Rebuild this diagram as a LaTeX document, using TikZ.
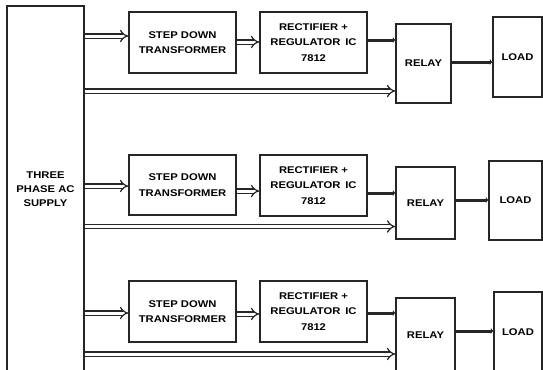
\documentclass[tikz,border=0pt]{standalone}
\usepackage{fontspec}
\setmainfont{Liberation Sans}
\newfontfamily\blkfont[FakeStretch=1.15]{Liberation Sans Bold}
\usetikzlibrary{arrows.meta}
\tikzset{
  blk/.style={draw=black!85, line width=1.4bp, inner sep=0pt, align=center,
    font=\fontsize{9.8}{15.5}\blkfont},
  dbl/.style={draw=black!85, line width=1.2bp, double=white, double distance=3bp,
    -{Implies[length=3.5bp]}},
  thk/.style={draw=black!85, line width=3bp, -{Latex[length=2.5bp,width=6.5bp]}}
}
\begin{document}
\begin{tikzpicture}[x=1bp,y=-1bp]
\useasboundingbox (0,0) rectangle (543,369);
\clip (0,0) rectangle (543,369);
\fill[white] (0,0) rectangle (543,369);
\node[blk, minimum width=77bp, minimum height=366bp, font=\fontsize{9.8}{14}\blkfont] (supply) at (45.5,189) {THREE\\PHASE AC\\SUPPLY};
% row 1
\node[blk, minimum width=107bp, minimum height=61bp] (step1) at (182.5,42.5) {STEP DOWN\\TRANSFORMER};
\node[blk, minimum width=107bp, minimum height=61bp] (rect1) at (313.5,42.5) {RECTIFIER +\\REGULATOR\enspace IC\\7812};
\node[blk, minimum width=55bp, minimum height=79bp] (relay1) at (423.5,63.5) {RELAY};
\node[blk, minimum width=49bp, minimum height=80bp] (load1) at (517.5,57) {LOAD};
% row 2
\node[blk, minimum width=107bp, minimum height=60bp] (step2) at (182.5,185) {STEP DOWN\\TRANSFORMER};
\node[blk, minimum width=107bp, minimum height=61bp] (rect2) at (313.5,185.5) {RECTIFIER +\\REGULATOR\enspace IC\\7812};
\node[blk, minimum width=59bp, minimum height=72bp] (relay2) at (425.5,203) {RELAY};
\node[blk, minimum width=53bp, minimum height=79bp] (load2) at (515.5,200.5) {LOAD};
% row 3
\node[blk, minimum width=107bp, minimum height=61bp] (step3) at (182.5,311.5) {STEP DOWN\\TRANSFORMER};
\node[blk, minimum width=107bp, minimum height=61bp] (rect3) at (313.5,311.5) {RECTIFIER +\\REGULATOR\enspace IC\\7812};
\node[blk, minimum width=59bp, minimum height=74bp] (relay3) at (425.5,335) {RELAY};
\node[blk, minimum width=48bp, minimum height=80bp] (load3) at (518,332) {LOAD};
% connectors row 1
\draw[dbl] (supply.east |- 0,36) -- (step1.west |- 0,36);
\draw[dbl] (step1.east |- 0,42) -- (rect1.west |- 0,42);
\draw[thk] (rect1.east |- 0,40) -- (relay1.west |- 0,40);
\draw[thk] (relay1.east |- 0,62) -- (load1.west |- 0,62);
\draw[dbl] (supply.east |- 0,91) -- (relay1.west |- 0,91);
% connectors row 2
\draw[dbl] (supply.east |- 0,186) -- (step2.west |- 0,186);
\draw[dbl] (step2.east |- 0,191) -- (rect2.west |- 0,191);
\draw[thk] (rect2.east |- 0,193) -- (relay2.west |- 0,193);
\draw[thk] (relay2.east |- 0,200) -- (load2.west |- 0,200);
\draw[dbl] (supply.east |- 0,226.5) -- (relay2.west |- 0,226.5);
% connectors row 3
\draw[dbl] (supply.east |- 0,313) -- (step3.west |- 0,313);
\draw[dbl] (step3.east |- 0,314) -- (rect3.west |- 0,314);
\draw[thk] (rect3.east |- 0,313) -- (relay3.west |- 0,313);
\draw[thk] (relay3.east |- 0,331) -- (load3.west |- 0,331);
\draw[dbl] (supply.east |- 0,354) -- (relay3.west |- 0,354);
\end{tikzpicture}
\end{document}
